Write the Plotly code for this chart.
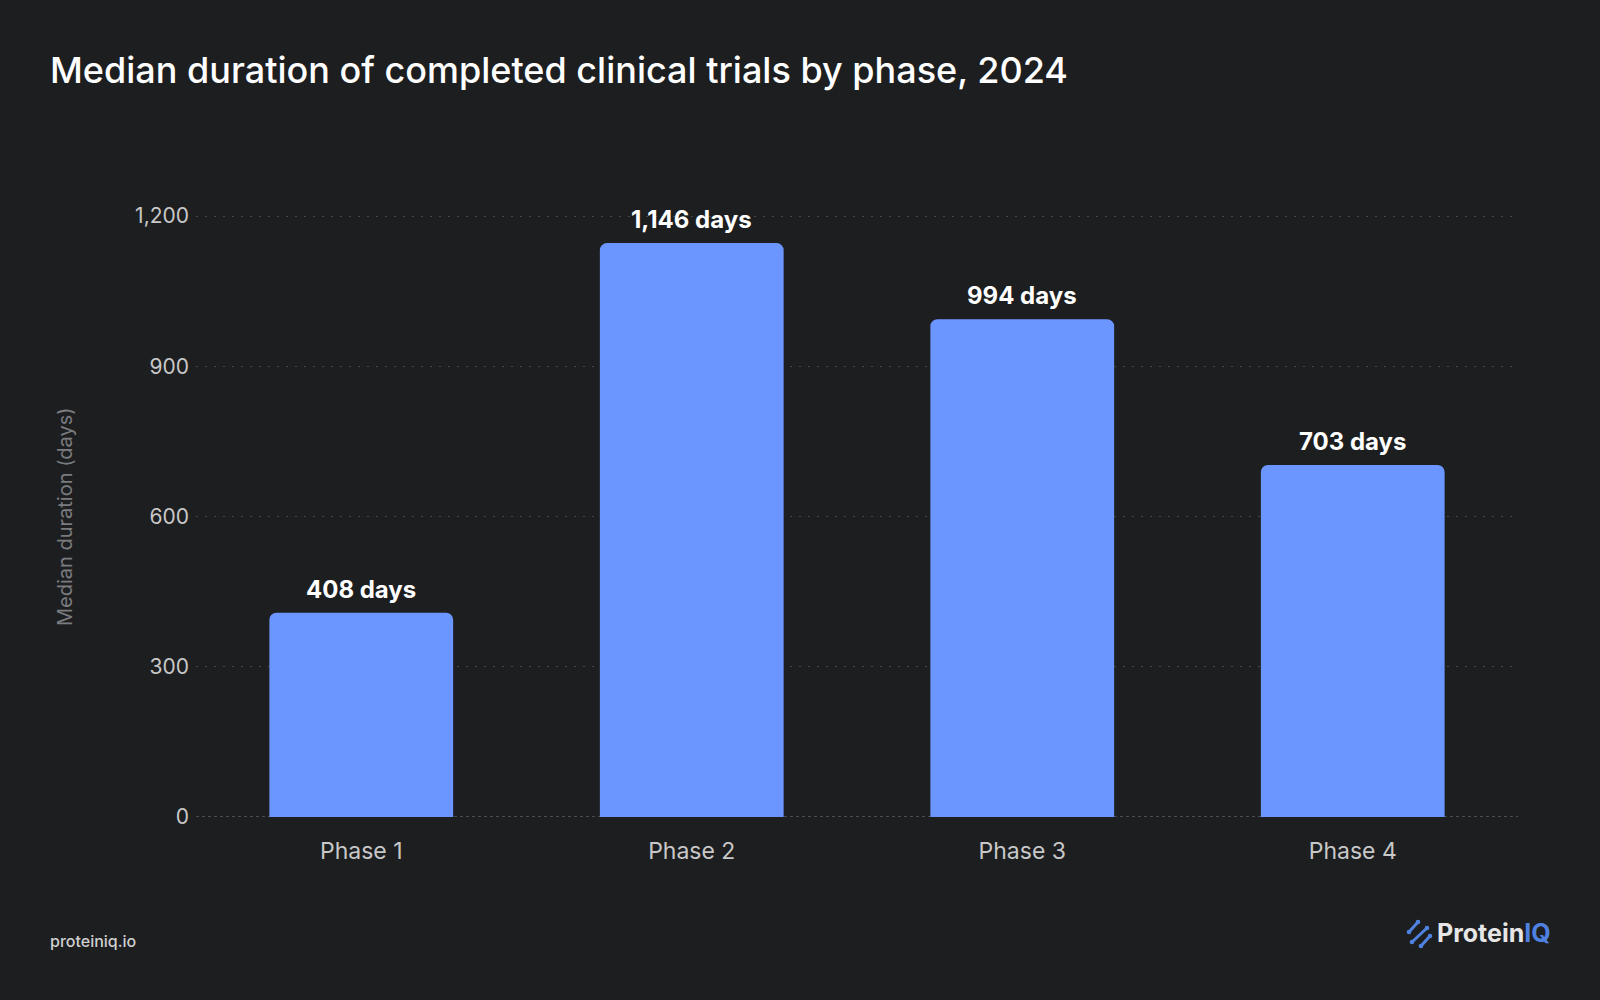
import plotly.graph_objects as go

phases = ["Phase 1", "Phase 2", "Phase 3", "Phase 4"]
median_days = [408, 1146, 994, 703]
bar_labels = ["408 days", "1,146 days", "994 days", "703 days"]
y_ticks = [0, 300, 600, 900, 1200]
y_tick_labels = ["0", "300", "600", "900", "1,200"]

BG = "#1d1e20"
BAR = "#6b96ff"
FONT = "Inter"

L, R, T, B = 196, 82, 191, 183
PW, PH = 1600 - L - R, 1000 - T - B


def px(xp):
    return (xp - L) / PW


def py(yp):
    return (1000 - B - yp) / PH


fig = go.Figure()
fig.add_trace(go.Bar(
    x=phases, y=median_days,
    marker=dict(color=BAR, cornerradius=7, line=dict(width=0)),
    hoverinfo="skip",
))

# baseline (dotted, slightly brighter than grid)
fig.add_hline(y=0, line=dict(color="#5a5b60", width=1.5, dash="3px,3px"), layer="below")

for p, v, t in zip(phases, median_days, bar_labels):
    fig.add_annotation(x=p, y=v, text=f"<b>{t}</b>", showarrow=False,
                       yanchor="bottom", yshift=7,
                       font=dict(family=FONT, size=24, color="#ffffff"))

# title
fig.add_annotation(xref="paper", yref="paper", x=px(48), y=py(70),
                   xanchor="left", yanchor="middle", showarrow=False,
                   text="Median duration of completed clinical trials by phase, 2024",
                   font=dict(family=FONT, size=36, color="#ffffff", weight=500))
# y axis title
fig.add_annotation(xref="paper", yref="paper", x=px(65), y=py(517),
                   xanchor="center", yanchor="middle", showarrow=False, textangle=-90,
                   text="Median duration (days)",
                   font=dict(family=FONT, size=20, color="#7a7b7e"))
# footer
fig.add_annotation(xref="paper", yref="paper", x=px(48), y=py(941),
                   xanchor="left", yanchor="middle", showarrow=False,
                   text="proteiniq.io",
                   font=dict(family=FONT, size=16, color="#d0d0d0", weight=500))
# logo text
fig.add_annotation(xref="paper", yref="paper", x=px(1553), y=py(933),
                   xanchor="right", yanchor="middle", showarrow=False,
                   text="<b><span style='color:#e6e6e6'>Protein</span><span style='color:#4f82e0'>IQ</span></b>",
                   font=dict(family=FONT, size=25, color="#e6e6e6"))

# logo icon (decoration)
ICON = "#4f82e0"
segs = [((1409, 932), (1418, 922)), ((1412, 942), (1427, 928)), ((1421, 946), (1430, 936))]
for (x0, y0), (x1, y1) in segs:
    fig.add_shape(type="line", xref="paper", yref="paper",
                  x0=px(x0), y0=py(y0), x1=px(x1), y1=py(y1),
                  line=dict(color=ICON, width=3))
    for (cx, cy) in [(x0, y0), (x1, y1)]:
        fig.add_shape(type="circle", xref="paper", yref="paper",
                      x0=px(cx - 2.3), x1=px(cx + 2.3), y0=py(cy + 2.3), y1=py(cy - 2.3),
                      fillcolor=ICON, line=dict(width=0))

fig.update_layout(
    width=1600, height=1000,
    paper_bgcolor=BG, plot_bgcolor=BG,
    margin=dict(l=L, r=R, t=T, b=B),
    bargap=0.444,
    showlegend=False,
    font=dict(family=FONT, color="#c8c8c8"),
    xaxis=dict(
        tickfont=dict(family=FONT, size=23, color="#c8c8c8"),
        showgrid=False, showline=False, zeroline=False,
        ticks="", ticklabelstandoff=18,
    ),
    yaxis=dict(
        range=[0, 1250],
        tickvals=y_ticks, ticktext=y_tick_labels,
        tickfont=dict(family=FONT, size=21, color="#c8c8c8"),
        ticks="", ticklabelstandoff=6,
        showgrid=True, gridcolor="#46474b", griddash="2px,7px", gridwidth=1,
        zeroline=False,
        showline=False,
    ),
)

fig.write_html("out.html", config={"displayModeBar": False},
               post_script="document.body.style.margin='0';document.body.style.background='#1d1e20';")
